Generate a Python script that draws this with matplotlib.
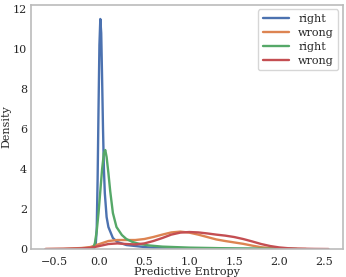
import matplotlib
matplotlib.use("Agg")
import matplotlib.pyplot as plt
import seaborn as sns

sns.set_style("white")
plt.rcParams['font.family'] = ['DejaVu Serif']

labels = ['right', 'wrong', 'right', 'wrong']
colors = sns.color_palette('deep', 4)

# curves (x = predictive entropy, y = density)
right1_x = [-0.07, -0.05, -0.04, -0.03, -0.02, -0.01, 0.0, 0.01, 0.02, 0.03, 0.04,
            0.05, 0.06, 0.08, 0.1, 0.15, 0.2, 0.3, 0.4, 0.5, 0.6, 0.8, 1.0, 1.5, 2.0]
right1_y = [0.0, 0.1, 0.3, 1.0, 3.5, 7.0, 10.2, 11.5, 10.8, 8.5, 6.0,
            4.0, 2.8, 1.6, 1.1, 0.55, 0.35, 0.2, 0.15, 0.1, 0.06, 0.03, 0.02, 0.01, 0.0]

wrong1_x = [-0.6, -0.4, -0.2, -0.1, 0.0, 0.1, 0.2, 0.3, 0.4, 0.5, 0.6, 0.7, 0.8,
            0.9, 1.0, 1.1, 1.2, 1.3, 1.4, 1.5, 1.6, 1.7, 1.8, 1.9, 2.0, 2.2, 2.3]
wrong1_y = [0.0, 0.01, 0.05, 0.1, 0.25, 0.4, 0.45, 0.45, 0.45, 0.5, 0.6, 0.72, 0.83,
            0.87, 0.82, 0.72, 0.6, 0.48, 0.4, 0.33, 0.26, 0.17, 0.09, 0.05, 0.02, 0.005, 0.0]

right2_x = [-0.1, -0.07, -0.05, -0.03, -0.01, 0.01, 0.03, 0.05, 0.065, 0.08, 0.1,
            0.12, 0.15, 0.19, 0.25, 0.3, 0.37, 0.45, 0.55, 0.7, 1.0, 1.5, 2.0, 2.2]
right2_y = [0.0, 0.05, 0.3, 0.9, 1.8, 2.9, 4.0, 4.8, 4.95, 4.6, 3.8,
            2.9, 1.8, 1.1, 0.7, 0.5, 0.35, 0.25, 0.18, 0.12, 0.07, 0.03, 0.01, 0.0]

wrong2_x = [-0.6, -0.4, -0.2, -0.1, 0.0, 0.1, 0.2, 0.3, 0.4, 0.5, 0.6, 0.7, 0.8, 0.9,
            1.0, 1.1, 1.2, 1.3, 1.4, 1.5, 1.6, 1.7, 1.8, 1.9, 2.0, 2.1, 2.2, 2.4, 2.55]
wrong2_y = [0.0, 0.01, 0.03, 0.06, 0.15, 0.25, 0.28, 0.25, 0.23, 0.28, 0.4, 0.55, 0.72, 0.82,
            0.85, 0.83, 0.78, 0.72, 0.67, 0.6, 0.5, 0.38, 0.25, 0.15, 0.08, 0.04, 0.02, 0.005, 0.0]

curves = [(right1_x, right1_y), (wrong1_x, wrong1_y),
          (right2_x, right2_y), (wrong2_x, wrong2_y)]

fig = plt.figure(figsize=(3.46, 2.77), dpi=100)
ax = fig.add_axes([0.09, 0.101, 0.901, 0.881])

for (xs, ys), lab, c in zip(curves, labels, colors):
    ax.plot(xs, ys, color=c, lw=1.7, label=lab)

ax.set_xlim(-0.76, 2.71)
ax.set_ylim(0, 12.2)
ax.set_xticks([-0.5, 0.0, 0.5, 1.0, 1.5, 2.0, 2.5])
ax.set_yticks([0, 2, 4, 6, 8, 10, 12])
ax.tick_params(axis='x', labelsize=8, length=0, pad=5.5)
ax.tick_params(axis='y', labelsize=8, length=0, pad=3)
ax.set_xlabel('Predictive Entropy', fontsize=8, labelpad=0)
ax.set_ylabel('Density', fontsize=8, labelpad=1)
for s in ax.spines.values():
    s.set_color('#bbbbbb')
    s.set_linewidth(1.2)

ax.legend(loc='upper right', fontsize=8, handlelength=2.4,
          borderaxespad=0.4, labelspacing=0.35)

fig.savefig('out.png', dpi=100)
